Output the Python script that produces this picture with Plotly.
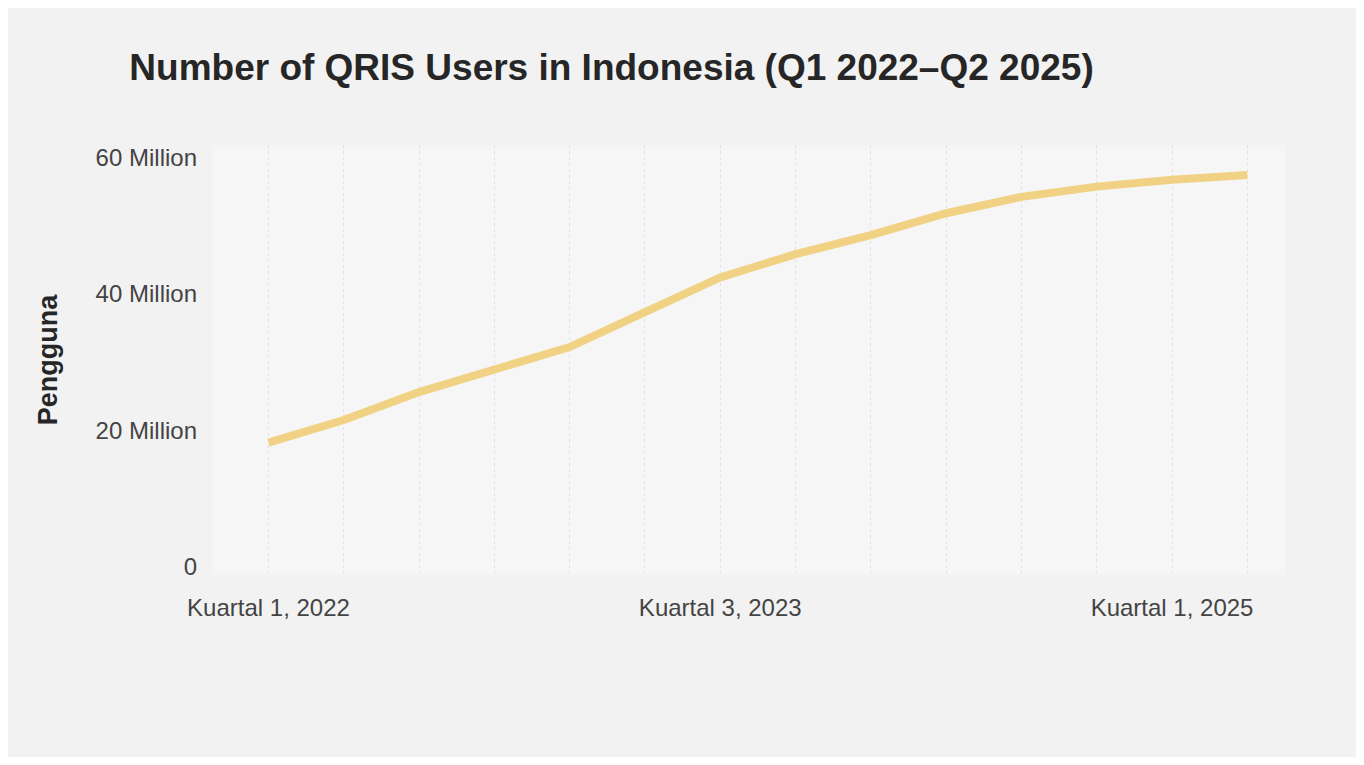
import plotly.graph_objects as go

# QRIS users per quarter (millions)
quarters = ["Kuartal 1, 2022", "Kuartal 2, 2022", "Kuartal 3, 2022", "Kuartal 4, 2022",
            "Kuartal 1, 2023", "Kuartal 2, 2023", "Kuartal 3, 2023", "Kuartal 4, 2023",
            "Kuartal 1, 2024", "Kuartal 2, 2024", "Kuartal 3, 2024", "Kuartal 4, 2024",
            "Kuartal 1, 2025", "Kuartal 2, 2025"]
users_million = [18.2, 21.5, 25.6, 28.8, 32.2, 37.3, 42.4, 45.8,
                 48.6, 51.8, 54.2, 55.7, 56.7, 57.4]

shown_quarters = ["Kuartal 1, 2022", "Kuartal 3, 2023", "Kuartal 1, 2025"]
y_ticks = [0, 20e6, 40e6, 60e6]
y_tick_labels = ["0", "20 Million", "40 Million", "60 Million"]

users = [v * 1e6 for v in users_million]
x_ticktext = [q if q in shown_quarters else "" for q in quarters]

font_family = "Liberation Sans, Arial, sans-serif"

trace = go.Scatter(
    x=quarters,
    y=users,
    mode="lines",
    line=dict(color="#F1D184", width=8),
    hoverinfo="x+y",
    showlegend=False,
)

fig = go.Figure(
    data=[trace],
    layout=go.Layout(
        title=dict(
            text="<b>Number of QRIS Users in Indonesia (Q1 2022–Q2 2025)</b>",
            x=0.09, xref="container", xanchor="left",
            y=0.921, yref="container", yanchor="middle",
            font=dict(family=font_family, size=37, color="#262626"),
        ),
        paper_bgcolor="#f2f2f2",
        plot_bgcolor="#f6f6f6",
        margin=dict(l=204, r=71, t=137, b=182),
        xaxis=dict(
            type="category",
            tickmode="array",
            tickvals=quarters,
            ticktext=x_ticktext,
            range=[-0.75, 13.5],
            showgrid=True,
            gridcolor="#e2e2e2",
            griddash="dot",
            gridwidth=1,
            showline=False,
            zeroline=False,
            ticks="",
            ticklabelstandoff=16,
            tickfont=dict(family=font_family, size=24, color="#444444"),
        ),
        yaxis=dict(
            title=dict(text="<b>Pengguna</b>", standoff=30,
                       font=dict(family=font_family, size=27, color="#262626")),
            tickmode="array",
            tickvals=y_ticks,
            ticktext=y_tick_labels,
            range=[-1.2e6, 61.8e6],
            showgrid=False,
            zeroline=False,
            showline=False,
            ticks="",
            ticklabelstandoff=14,
            tickfont=dict(family=font_family, size=24, color="#444444"),
        ),
    ),
)

fig.write_html("out.html")
